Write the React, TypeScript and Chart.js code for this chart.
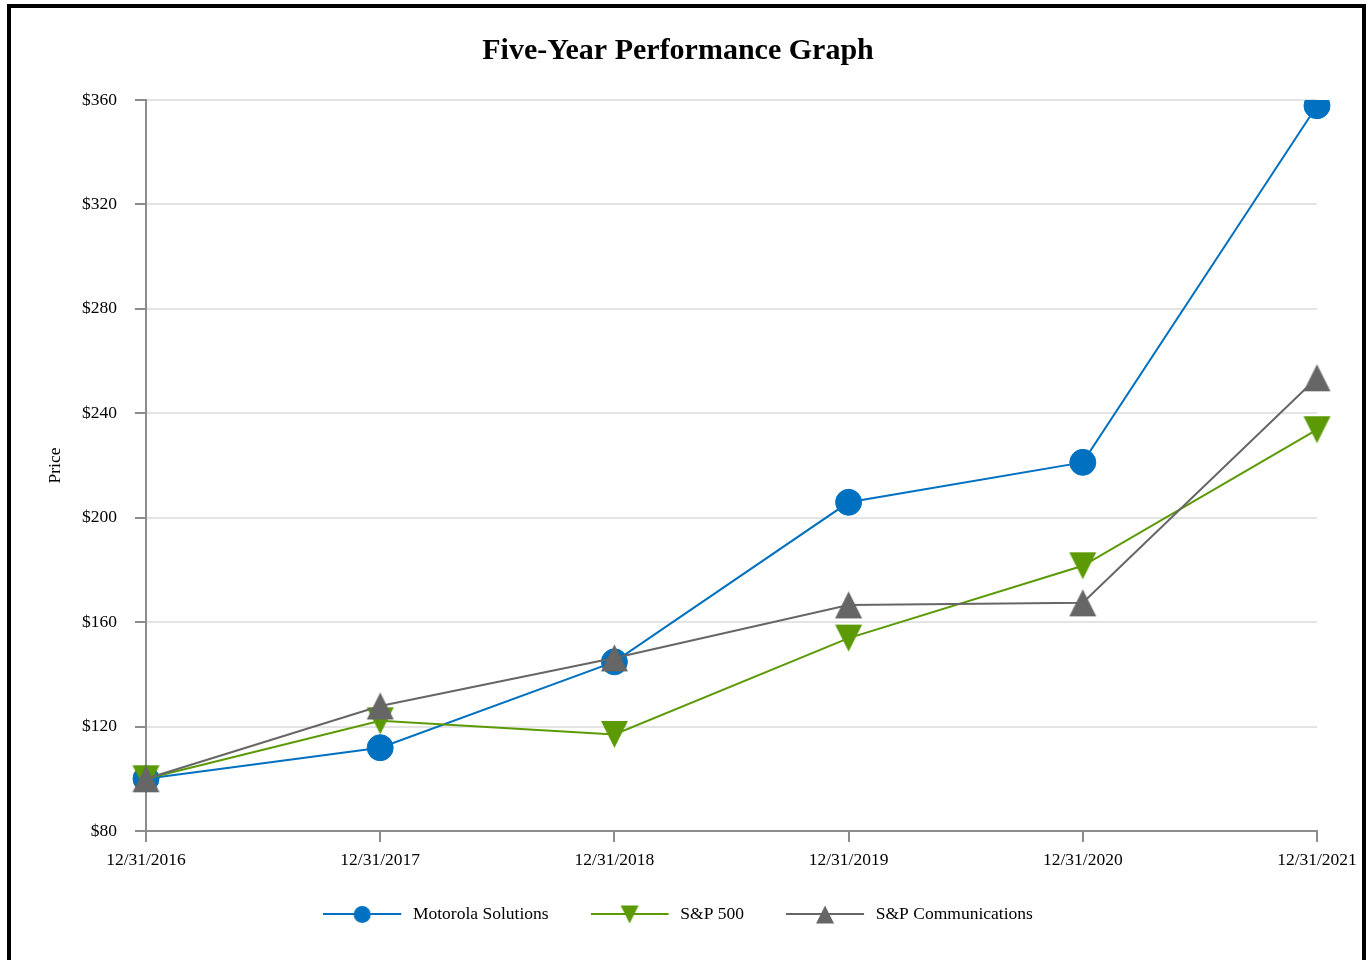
import React, { useEffect, useRef } from 'react';
import { Chart, registerables } from 'chart.js';

Chart.register(...registerables);

// ---- data ----
const categories = ['12/31/2016', '12/31/2017', '12/31/2018', '12/31/2019', '12/31/2020', '12/31/2021'];
const motorola = [100, 111.9, 144.8, 205.9, 221.2, 357.8];
const sp500 = [100, 122.2, 117.0, 153.9, 181.6, 233.7];
const spComm = [100, 127.9, 146.3, 166.6, 167.4, 253.6];
const seriesNames = ['Motorola Solutions', 'S&P 500', 'S&P Communications'];
const yMin = 80;
const yMax = 360;
const yStep = 40;

const COLORS = ['#0070C0', '#5B9A05', '#666666'];
const FONT = "'Liberation Serif', 'Times New Roman', serif";

type Kind = 'circle' | 'up' | 'down';

function drawShape(ctx: CanvasRenderingContext2D, kind: Kind, cx: number, cy: number, size: number) {
  ctx.beginPath();
  const h = size / 2;
  if (kind === 'circle') {
    ctx.arc(cx, cy, h, 0, Math.PI * 2);
  } else if (kind === 'up') {
    ctx.moveTo(cx, cy - h);
    ctx.lineTo(cx + h, cy + h);
    ctx.lineTo(cx - h, cy + h);
    ctx.closePath();
  } else {
    ctx.moveTo(cx, cy + h);
    ctx.lineTo(cx + h, cy - h);
    ctx.lineTo(cx - h, cy - h);
    ctx.closePath();
  }
  ctx.fill();
}

function makeMarker(color: string, kind: Kind, size: number): HTMLCanvasElement {
  const c = document.createElement('canvas');
  const s = Math.ceil(size) + 2;
  c.width = s;
  c.height = s;
  const ctx = c.getContext('2d')!;
  ctx.fillStyle = color;
  drawShape(ctx, kind, s / 2, s / 2, size);
  return c;
}

const LEGEND_LINE = 78;
const LEGEND_W = 81;

function makeLegendIcon(color: string, kind: Kind, size: number): HTMLCanvasElement {
  const c = document.createElement('canvas');
  c.width = LEGEND_W;
  c.height = 30;
  const ctx = c.getContext('2d')!;
  ctx.strokeStyle = color;
  ctx.fillStyle = color;
  ctx.lineWidth = 2;
  ctx.beginPath();
  ctx.moveTo(0, 15);
  ctx.lineTo(LEGEND_LINE, 15);
  ctx.stroke();
  drawShape(ctx, kind, LEGEND_LINE / 2, 15.5, size);
  return c;
}

export default function App() {
  const ref = useRef<HTMLCanvasElement>(null);

  useEffect(() => {
    if (!ref.current) return;
    const icons = [
      makeLegendIcon(COLORS[0], 'circle', 17),
      makeLegendIcon(COLORS[1], 'down', 18),
      makeLegendIcon(COLORS[2], 'up', 18),
    ];
    const markers = [
      makeMarker(COLORS[1], 'down', 27),
      makeMarker(COLORS[2], 'up', 27),
    ];
    const tickFont = { family: FONT, size: 17.5 };
    const chart = new Chart(ref.current, {
      type: 'line',
      data: {
        labels: categories,
        datasets: [
          {
            label: seriesNames[0],
            data: motorola,
            borderColor: COLORS[0],
            backgroundColor: COLORS[0],
            borderWidth: 2,
            pointStyle: 'circle',
            pointRadius: 13,
            pointHoverRadius: 13,
            pointBorderWidth: 1,
            tension: 0,
            order: 3,
          },
          {
            label: seriesNames[1],
            data: sp500,
            borderColor: COLORS[1],
            backgroundColor: COLORS[1],
            borderWidth: 2,
            pointStyle: markers[0],
            pointRadius: 13,
            pointHoverRadius: 13,
            tension: 0,
            order: 2,
          },
          {
            label: seriesNames[2],
            data: spComm,
            borderColor: COLORS[2],
            backgroundColor: COLORS[2],
            borderWidth: 2,
            pointStyle: markers[1],
            pointRadius: 13,
            pointHoverRadius: 13,
            tension: 0,
            order: 1,
          },
        ],
      },
      options: {
        responsive: false,
        devicePixelRatio: 1,
        animation: false,
        layout: { padding: { left: 0, right: 17, top: 0, bottom: 27.25 } },
        plugins: {
          title: {
            display: true,
            text: 'Five-Year Performance Graph',
            color: '#000',
            font: { family: FONT, size: 30, weight: 'bold' },
            padding: { top: 25, bottom: 31 },
          },
          legend: {
            position: 'bottom',
            labels: {
              usePointStyle: true,
              pointStyleWidth: LEGEND_W,
              padding: 42,
              color: '#000',
              font: tickFont,
              generateLabels: (ch: any) => {
                const items = (Chart.defaults.plugins.legend.labels as any).generateLabels(ch);
                return items.map((it: any) => ({ ...it, pointStyle: icons[it.datasetIndex], rotation: 0 }));
              },
              sort: (a: any, b: any) => a.datasetIndex - b.datasetIndex,
            },
          },
          tooltip: { enabled: false },
        },
        scales: {
          x: {
            type: 'category',
            offset: false,
            grid: {
              drawOnChartArea: false,
              color: '#8c8c8c',
              tickColor: '#8c8c8c',
              tickLength: 11,
              lineWidth: 2,
            },
            border: { color: '#8c8c8c', width: 2 },
            ticks: { color: '#000', font: tickFont, padding: 7.5, maxRotation: 0, autoSkip: false },
            afterFit: (s: any) => {
              s.height = 32.25;
              s.paddingRight = 45;
              // let the tick labels extend below the (compact) axis box
              s._computeLabelArea = () => undefined;
            },
          },
          y: {
            min: yMin,
            max: yMax,
            grid: {
              color: '#e4e4e4',
              tickColor: '#8c8c8c',
              tickLength: 11,
              lineWidth: 2,
            },
            border: { color: '#8c8c8c', width: 2 },
            ticks: {
              stepSize: yStep,
              color: '#000',
              font: tickFont,
              padding: 18,
              callback: (v: any) => '$' + v,
            },
            title: {
              display: true,
              text: 'Price',
              color: '#000',
              font: tickFont,
              padding: { top: 33.5, bottom: 0 },
            },
            afterFit: (s: any) => {
              s.width = 135;
            },
          },
        },
      },
    });
    return () => chart.destroy();
  }, []);

  return (
    <div
      style={{
        position: 'fixed',
        left: 7,
        top: 4,
        width: 1359,
        height: 1010,
        border: '4px solid #000',
        boxSizing: 'border-box',
        background: '#fff',
      }}
    >
      <canvas ref={ref} width={1351} height={952} style={{ display: 'block', width: 1351, height: 952 }} />
    </div>
  );
}
